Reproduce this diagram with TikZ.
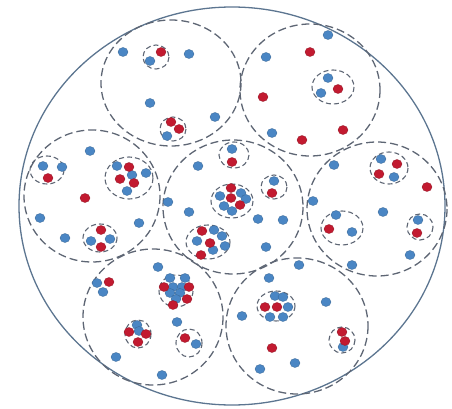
\documentclass[tikz,border=0pt]{standalone}
\usetikzlibrary{positioning}
\definecolor{dotblue}{HTML}{4A86C4}
\definecolor{dotred}{HTML}{C21A30}
\definecolor{rim}{HTML}{5C7590}
\definecolor{dashgray}{HTML}{5E6674}

\begin{document}
\begin{tikzpicture}[x=1pt, y=-1pt,
  outer/.style={draw=rim, line width=1.3pt},
  zone/.style={draw=dashgray, line width=1.3pt, dash pattern=on 8pt off 4pt},
  grp/.style={draw=dashgray, line width=1.1pt, dash pattern=on 5pt off 3pt},
  bd/.style={fill=dotblue, draw=dotblue!75!black, line width=0.3pt},
  rd/.style={fill=dotred, draw=dotred!75!black, line width=0.3pt}
]
  \useasboundingbox (0,0) rectangle (452,409);

  % outer boundary
  \draw[outer] (232,206) ellipse [x radius=213, y radius=199];

  % seven zones
  \foreach \cx/\cy/\rx/\ry in {171/83/70/63, 310/90/70/66, 92/196/68/66,
      233/207/70/67, 377/209/70/67, 153/317/70/68, 297/326/71/68}
    \draw[zone] (\cx,\cy) ellipse [x radius=\rx, y radius=\ry];

  % small groups
  \foreach \cx/\cy/\rx/\ry in {156/57/13/12, 173/129/13/12, 333/87/21/17,
      47/170/17/14, 129/178/24/21, 100/238/17/14, 234/155/15/13,
      274/187/13/12, 232/201/21/17, 208/242/22/17, 389/168/19/16,
      342/228/21/17, 420/227/13/13, 176/291/17/16, 138/334/13/14,
      189/343/13/14, 276/306/19/15, 342/340/13/13}
    \draw[grp] (\cx,\cy) ellipse [x radius=\rx, y radius=\ry];

  % blue points
  \foreach \p in {(123,52),(150,61),(189,54),(150,103),(215,117),(167,136),
      (328,35),(266,57),(328,78),(321,93),(272,133),
      (90,151),(43,166),(62,167),(117,166),(132,175),(146,173),(127,191),
      (40,218),(65,238),(139,223),(91,241),(110,239),
      (232,149),(198,166),(274,181),(220,196),(241,193),(246,199),(224,206),
      (232,211),(168,202),(189,212),(258,219),(283,220),(214,230),(222,236),
      (197,241),(225,246),(213,250),(266,247),
      (334,165),(381,159),(394,177),(313,201),(383,212),(336,215),(352,232),
      (418,220),(410,255),(352,265),
      (158,267),(97,283),(103,292),(170,278),(185,278),(173,287),(182,287),
      (170,293),(180,293),(176,299),(177,322),(137,325),(139,331),(196,344),
      (116,357),(162,375),
      (299,265),(269,278),(275,296),(283,297),(288,307),(270,317),(283,317),
      (326,302),(242,316),(343,347),(295,363),(260,369)}
    \draw[bd] \p ellipse [x radius=5, y radius=4.5];

  % red points
  \foreach \p in {(161,52),(171,122),(179,129),
      (310,52),(338,89),(263,97),(343,130),(302,140),
      (48,178),(129,167),(120,179),(134,183),(85,198),(101,230),(101,247),
      (232,162),(272,193),(231,188),(231,198),(240,205),(202,231),(210,243),
      (201,255),
      (397,164),(379,174),(427,187),(329,229),(417,233),
      (109,282),(164,287),(189,287),(187,299),(173,305),(129,332),(146,334),
      (138,342),(185,338),
      (265,307),(277,307),(342,332),(345,341),(272,348)}
    \draw[rd] \p ellipse [x radius=5, y radius=4.5];
\end{tikzpicture}
\end{document}
